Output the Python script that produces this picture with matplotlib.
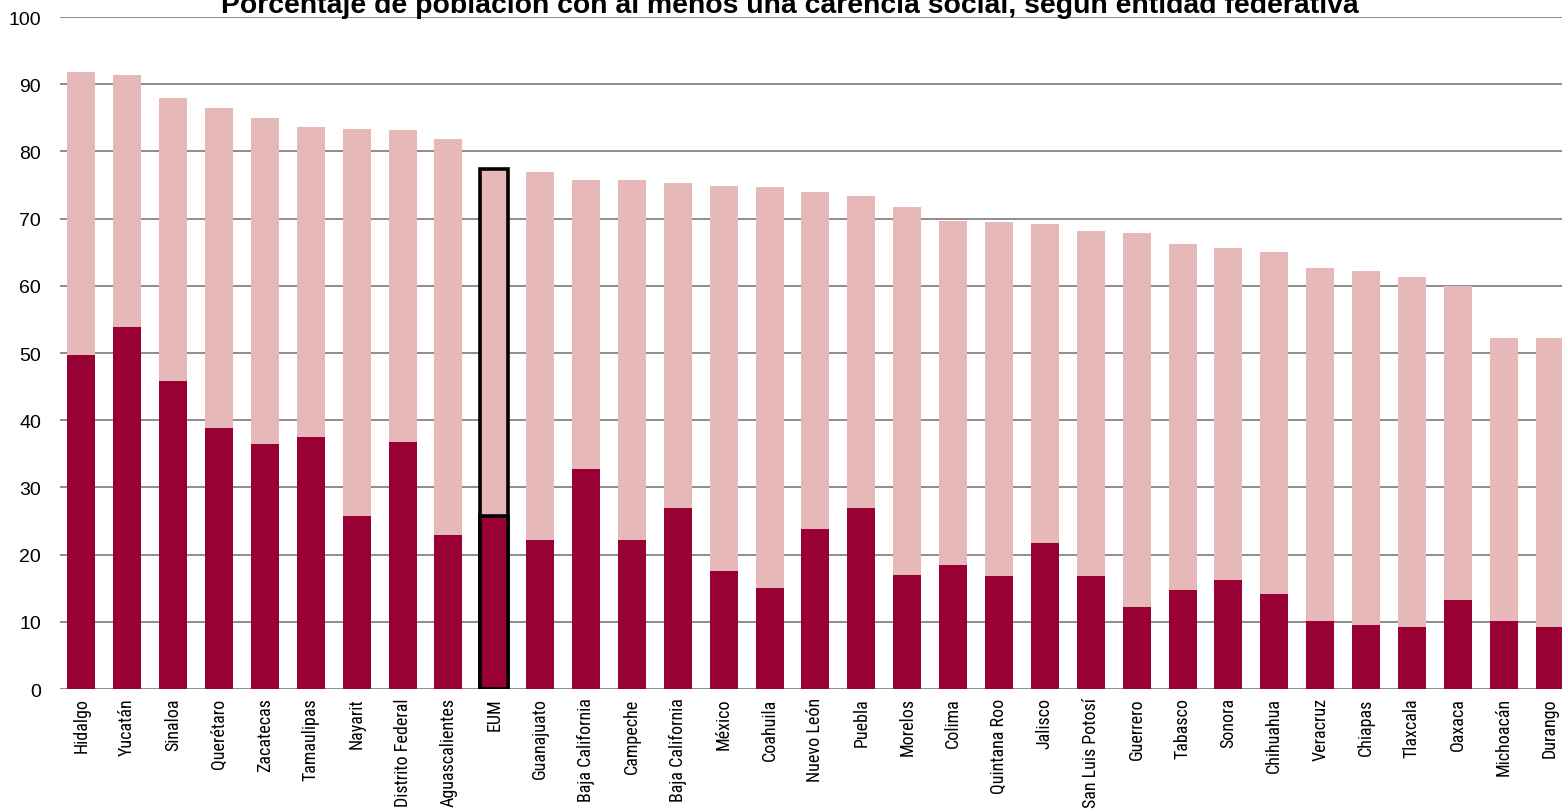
import matplotlib.pyplot as plt

# Entidades ordenadas de mayor a menor porcentaje
entidades = ["Hidalgo", "Yucatán", "Sinaloa", "Querétaro", "Zacatecas", "Tamaulipas",
             "Nayarit", "Distrito Federal", "Aguascalientes", "EUM", "Guanajuato",
             "Baja California", "Campeche", "Baja California", "México", "Coahuila",
             "Nuevo León", "Puebla", "Morelos", "Colima", "Quintana Roo", "Jalisco",
             "San Luis Potosí", "Guerrero", "Tabasco", "Sonora", "Chihuahua", "Veracruz",
             "Chiapas", "Tlaxcala", "Oaxaca", "Michoacán", "Durango"]

# Al menos una carencia (barra clara)
al_menos_una = [91.8, 91.3, 87.9, 86.4, 85.0, 83.6, 83.4, 83.2, 81.8, 77.4, 77.0,
                75.8, 75.8, 75.3, 74.8, 74.7, 74.0, 73.3, 71.8, 69.7, 69.5, 69.2,
                68.2, 67.8, 66.2, 65.6, 65.0, 62.6, 62.2, 61.3, 60.0, 52.3, 52.3]

# Porción oscura
oscura = [49.7, 53.8, 45.8, 38.8, 36.4, 37.5, 25.7, 36.8, 22.9, 25.7, 22.2,
          32.7, 22.2, 26.9, 17.6, 15.1, 23.8, 26.9, 17.0, 18.4, 16.8, 21.8,
          16.8, 12.2, 14.7, 16.2, 14.1, 10.1, 9.5, 9.2, 13.3, 10.1, 9.2]

titulo = "Porcentaje de población con al menos una carencia social, según entidad federativa"

plt.rcParams['font.family'] = ['Liberation Sans', 'DejaVu Sans']

fig = plt.figure(figsize=(15.62, 8.12), dpi=100)
ax = fig.add_axes([0.0384, 0.1502, 0.9616, 0.8276])

x = list(range(len(entidades)))
claro = ax.bar(x, al_menos_una, width=0.61, color="#E6B8B7", zorder=2)
fuerte = ax.bar(x, oscura, width=0.61, color="#990033", zorder=3)

# recuadro negro para el total nacional
i = entidades.index("EUM")
for b in (claro[i], fuerte[i]):
    b.set_edgecolor("black")
    b.set_linewidth(2.6)
    b.set_zorder(4)

ax.set_ylim(0, 100)
ax.set_xlim(-0.466, 32.27)
ax.set_yticks(range(0, 101, 10))
ax.yaxis.grid(True, color="#858585", linewidth=1.3, zorder=0)
ax.set_axisbelow(True)
for s in ax.spines.values():
    s.set_visible(False)

ax.set_xticks(x)
ax.set_xticklabels(entidades, rotation=90, va="top", ha="center", fontsize=13,
                   family=['Roboto Condensed', 'DejaVu Sans'], fontstretch='condensed')
ax.tick_params(axis="x", length=0, pad=6)
ax.tick_params(axis="y", length=0, pad=13.5, labelsize=14)

fig.text(0.506, 0.984, titulo, ha="center", va="baseline",
         fontsize=20.4, fontweight="bold")

fig.savefig("out.png", dpi=100)
